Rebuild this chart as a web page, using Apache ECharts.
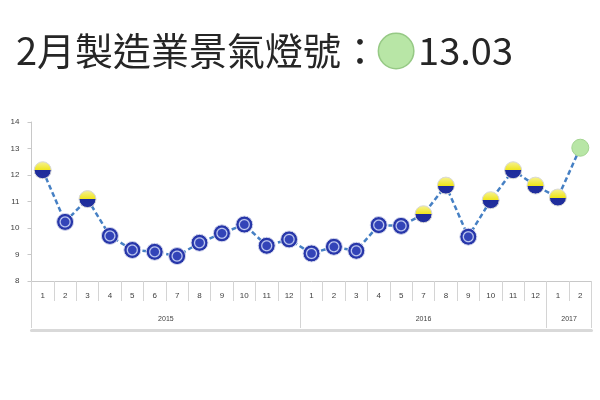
<!DOCTYPE html>
<html><head><meta charset="utf-8">
<script src="https://cdn.jsdelivr.net/npm/echarts@6/dist/echarts.min.js"></script>
<style>html,body{margin:0;padding:0;background:#fff}#c{width:600px;height:400px}</style>
</head><body><div id="c"></div>
<script>
// ---- data ----
const monthLabels = ['1','2','3','4','5','6','7','8','9','10','11','12',
                     '1','2','3','4','5','7','8','9','10','11','12',
                     '1','2'];
const years = ['2015','2016','2017'];
const yearCounts = [12, 11, 2];
const scores = [12.18,10.23,11.09,9.7,9.17,9.1,8.94,9.44,9.8,10.13,9.33,9.57,
                9.04,9.29,9.14,10.11,10.08,10.52,11.6,9.67,11.05,12.18,11.6,
                11.15,13.03];
const lights = ['yb','b','yb','b','b','b','b','b','b','b','b','b',
                'b','b','b','b','b','yb','yb','b','yb','yb','yb',
                'yb','g'];
const yTicks = {min: 8, max: 14, interval: 1};
const titleText = '2月製造業景氣燈號：';
const titleValue = '13.03';

// ---- build ----
const yearOf = [];
years.forEach((y, i) => { for (let k = 0; k < yearCounts[i]; k++) yearOf.push(y); });
const cats = monthLabels.map((m, i) => yearOf[i] + '/' + m);
const bounds = [0]; yearCounts.forEach(c => bounds.push(bounds[bounds.length - 1] + c));
const centers = yearCounts.map((c, i) => bounds[i] + c / 2);
const total = bounds[bounds.length - 1];

const styles = {
  b: {
    color: {type: 'radial', x: 0.5, y: 0.5, r: 0.5, colorStops: [
      {offset: 0, color: '#3344b8'}, {offset: 0.42, color: '#3344b8'},
      {offset: 0.55, color: '#c9d2f4'}, {offset: 0.68, color: '#2a3aae'},
      {offset: 1, color: '#1e2b9c'}]},
    borderColor: '#d4d8ee', borderWidth: 1
  },
  yb: {
    color: {type: 'linear', x: 0, y: 0, x2: 0, y2: 1, colorStops: [
      {offset: 0, color: '#f6f29a'}, {offset: 0.5, color: '#efe51a'},
      {offset: 0.5, color: '#1d2b9a'}, {offset: 1, color: '#22309f'}]},
    borderColor: '#d8d8d8', borderWidth: 1
  },
  g: {color: '#b8e6a6', borderColor: '#a2d48f', borderWidth: 1}
};
const data = scores.map((v, i) => ({value: v, itemStyle: styles[lights[i]]}));

const chart = echarts.init(document.getElementById('c'), null, {renderer: 'canvas'});
chart.setOption({
  animation: false,
  title: {
    left: 11, top: 27,
    text: '{a|' + titleText + '}{c|}{s|}{a|' + titleValue + '}',
    textStyle: {
      rich: {
        a: {fontFamily: 'Noto Sans CJK TC', fontSize: 38, color: '#262626', fontWeight: 'normal'},
        c: {width: 34, height: 34, borderRadius: 17, backgroundColor: '#b8e6a6', borderColor: '#96c985', borderWidth: 1.5},
        s: {width: 5}
      }
    }
  },
  grid: {left: 31.5, right: 8.5, top: 122, bottom: 119, containLabel: false},
  xAxis: [
    {
      type: 'category', data: cats, position: 'bottom',
      axisLine: {show: true, lineStyle: {color: '#c8c8c8', width: 1}},
      axisTick: {show: true, interval: 0, length: 20, lineStyle: {color: '#d4d4d4'}},
      axisLabel: {interval: 0, margin: 11, fontSize: 8, color: '#404040', fontFamily: 'Liberation Sans',
        formatter: v => v.split('/')[1]},
      splitLine: {show: false}
    },
    {
      type: 'value', min: 0, max: total, position: 'bottom',
      axisLine: {show: false},
      axisTick: {show: true, customValues: bounds, length: 47, lineStyle: {color: '#d4d4d4'}},
      axisLabel: {show: true, customValues: centers, margin: 35, fontSize: 7, color: '#404040', fontFamily: 'Liberation Sans',
        formatter: v => { const i = centers.indexOf(v); return i >= 0 ? years[i] : ''; }},
      splitLine: {show: false}
    },
    {
      type: 'value', min: 0, max: total, position: 'bottom', offset: 49,
      axisLine: {show: true, lineStyle: {color: '#d9d9d9', width: 3}},
      axisTick: {show: false}, axisLabel: {show: false}, splitLine: {show: false}
    }
  ],
  yAxis: {
    type: 'value', min: yTicks.min, max: yTicks.max, interval: yTicks.interval,
    axisLine: {show: true, lineStyle: {color: '#c8c8c8'}},
    axisTick: {show: true, length: 4, lineStyle: {color: '#c8c8c8'}},
    axisLabel: {fontSize: 8, color: '#404040', margin: 12, fontFamily: 'Liberation Sans'},
    splitLine: {show: false}
  },
  series: [{
    type: 'line', data: data, xAxisIndex: 0,
    symbol: 'circle', symbolSize: 17,
    lineStyle: {color: '#4680c4', width: 2.5, type: [5, 3]},
    z: 3
  }]
});
</script></body></html>
